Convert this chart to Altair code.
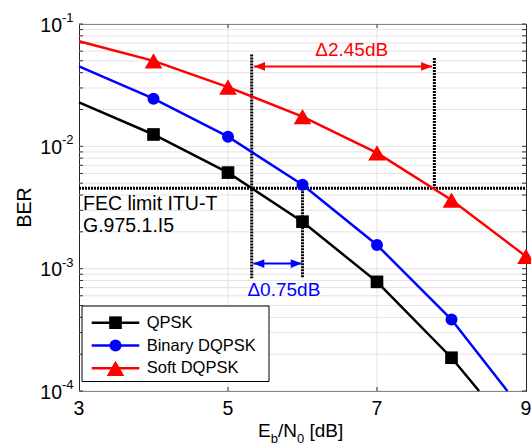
import altair as alt
import pandas as pd

FONT = "Liberation Sans"
W, H = 447, 367

# ---------------- data ----------------
series_names = ["QPSK", "Binary DQPSK", "Soft DQPSK"]
series_colors = ["#000000", "#0000ff", "#ff0000"]
series_shapes = ["square", "circle", "triangle-up"]
series_sizes = [160, 144, 310]

x_qpsk = [3, 4, 5, 6, 7, 8, 8.37]
ber_qpsk = [2.29e-2, 1.25e-2, 6.1e-3, 2.42e-3, 7.8e-4, 1.87e-4, 1.0e-4]
mk_qpsk = [False, True, True, True, True, True, False]

x_bin = [3, 4, 5, 6, 7, 8, 8.75]
ber_bin = [4.5e-2, 2.45e-2, 1.2e-2, 4.85e-3, 1.56e-3, 3.84e-4, 1.0e-4]
mk_bin = [False, True, True, True, True, True, False]

x_soft = [3, 4, 5, 6, 7, 8, 9]
ber_soft = [7.23e-2, 5.0e-2, 3.05e-2, 1.75e-2, 8.85e-3, 3.64e-3, 1.26e-3]
mk_soft = [False, True, True, True, True, True, True]

fec_level = 4.54e-3
fec_text = ["FEC limit ITU-T", "G.975.1.I5"]
fec_text_y = [3.40e-3, 2.23e-3]

# vertical dotted guides
v_x = [5.318, 6.0, 7.77]
v_y1 = [5.62e-2, fec_level, 5.28e-2]
v_y2 = [8.35e-4, 8.35e-4, fec_level]

# double arrows
arr_x1 = [5.349, 5.34]
arr_x2 = [7.74, 5.99]
arr_y = [4.5e-2, 1.1e-3]
arr_color = ["#ff0000", "#0000ff"]
arr_label = ["\u03942.45dB", "\u03940.75dB"]
arr_label_x = [6.66, 5.75]
arr_label_y = [6.18e-2, 6.67e-4]

x_ticks = [3, 5, 7, 9]
x_grid = [5, 7]
y_major = [1e-1, 1e-2, 1e-3, 1e-4]
y_major_exp = ["-1", "-2", "-3", "-4"]
y_minor = [m * 10.0 ** k for k in (-4, -3, -2) for m in range(1, 10)] + [1e-1]

# ---------------- helpers ----------------
xs = alt.Scale(domain=[3, 9], nice=False, zero=False)
ys = alt.Scale(type="log", domain=[1e-4, 1e-1], nice=False)


def X(f):
    return alt.X(f, type="quantitative", scale=xs, axis=None)


def Y(f):
    return alt.Y(f, type="quantitative", scale=ys, axis=None)


size_of = dict(zip(series_names, series_sizes))
rows = []
for name, xx, yy, mm in [
    ("QPSK", x_qpsk, ber_qpsk, mk_qpsk),
    ("Binary DQPSK", x_bin, ber_bin, mk_bin),
    ("Soft DQPSK", x_soft, ber_soft, mk_soft),
]:
    for a, b, c in zip(xx, yy, mm):
        rows.append({"series": name, "x": a, "ber": b, "marker": c, "sz": size_of[name]})
df = pd.DataFrame(rows)

color_scale = alt.Scale(domain=series_names, range=series_colors)
shape_scale = alt.Scale(domain=series_names, range=series_shapes)

grid_y_df = pd.DataFrame({"v": y_minor})
grid_x_df = pd.DataFrame({"v": x_grid})

grid_y = alt.Chart(grid_y_df).mark_rule(color="#e3e3e3", strokeWidth=1).encode(
    y=Y("v"), x=alt.value(0), x2=alt.value(W)
)
grid_x = alt.Chart(grid_x_df).mark_rule(color="#e3e3e3", strokeWidth=1).encode(
    x=X("v"), y=alt.value(0), y2=alt.value(H)
)
tick_yl = alt.Chart(grid_y_df).mark_rule(color="#333333", strokeWidth=1).encode(
    y=Y("v"), x=alt.value(0), x2=alt.value(4)
)
tick_yr = alt.Chart(grid_y_df).mark_rule(color="#333333", strokeWidth=1).encode(
    y=Y("v"), x=alt.value(W - 4), x2=alt.value(W)
)
tick_xb = alt.Chart(grid_x_df).mark_rule(color="#333333", strokeWidth=1).encode(
    x=X("v"), y=alt.value(H - 4), y2=alt.value(H)
)
tick_xt = alt.Chart(grid_x_df).mark_rule(color="#333333", strokeWidth=1).encode(
    x=X("v"), y=alt.value(0), y2=alt.value(4)
)

lines = alt.Chart(df).mark_line(strokeWidth=2.5).encode(
    x=X("x"), y=Y("ber"),
    color=alt.Color("series:N", scale=color_scale, legend=None),
)
points = alt.Chart(df).transform_filter(alt.datum.marker).mark_point(
    filled=True, opacity=1
).encode(
    x=X("x"), y=Y("ber"),
    color=alt.Color("series:N", scale=color_scale, legend=None),
    shape=alt.Shape("series:N", scale=shape_scale, legend=None),
    size=alt.Size("sz:Q", scale=None, legend=None),
)

fec_df = pd.DataFrame({"x1": [3], "x2": [9], "y": [fec_level]})
fec = alt.Chart(fec_df).mark_rule(color="black", strokeWidth=3, strokeDash=[2, 1]).encode(
    x=X("x1"), x2="x2", y=Y("y")
)
fec_lbl = alt.Chart(pd.DataFrame({"t": fec_text, "y": fec_text_y, "x": [3, 3]})).mark_text(
    align="left", baseline="middle", dx=4, fontSize=19.5, font=FONT, color="black"
).encode(x=X("x"), y=Y("y"), text="t:N")

v_df = pd.DataFrame({"x": v_x, "y1": v_y1, "y2": v_y2})
vlines = alt.Chart(v_df).mark_rule(color="black", strokeWidth=3, strokeDash=[2, 1]).encode(
    x=X("x"), y=Y("y1"), y2="y2"
)

arr_df = pd.DataFrame({"x1": arr_x1, "x2": arr_x2, "y": arr_y, "c": arr_color})
shafts = alt.Chart(arr_df).mark_rule(strokeWidth=2).encode(
    x=X("x1"), x2="x2", y=Y("y"), color=alt.Color("c:N", scale=None)
)
heads_rows = []
for a, b, y, c in zip(arr_x1, arr_x2, arr_y, arr_color):
    heads_rows.append({"x": a, "y": y, "c": c, "s": "M0,0 L2,-0.8 L2,0.8 Z"})
    heads_rows.append({"x": b, "y": y, "c": c, "s": "M0,0 L-2,-0.8 L-2,0.8 Z"})
heads = alt.Chart(pd.DataFrame(heads_rows)).mark_point(filled=True, opacity=1, size=121).encode(
    x=X("x"), y=Y("y"),
    color=alt.Color("c:N", scale=None),
    shape=alt.Shape("s:N", scale=None),
)
arr_txt = alt.Chart(pd.DataFrame({"t": arr_label, "x": arr_label_x, "y": arr_label_y, "c": arr_color})).mark_text(
    align="center", baseline="middle", fontSize=19, font=FONT
).encode(x=X("x"), y=Y("y"), text="t:N", color=alt.Color("c:N", scale=None))

# legend
leg_df = pd.DataFrame({
    "series": series_names,
    "i": list(range(len(series_names))),
    "sz": series_sizes,
})
leg_base = alt.Chart(leg_df).transform_calculate(ly="298.7 + datum.i * 22.8")
leg_box = alt.Chart(pd.DataFrame({"a": [0]})).mark_rect(
    fill="white", stroke="black", strokeWidth=1
).encode(x=alt.value(3), x2=alt.value(190), y=alt.value(282), y2=alt.value(357.5))
leg_lines = leg_base.mark_rule(strokeWidth=2.5).encode(
    x=alt.value(12.7), x2=alt.value(60.3), y=alt.Y("ly:Q", scale=None, axis=None),
    color=alt.Color("series:N", scale=color_scale, legend=None),
)
leg_pts = leg_base.mark_point(filled=True, opacity=1).encode(
    x=alt.value(36.5), y=alt.Y("ly:Q", scale=None, axis=None),
    color=alt.Color("series:N", scale=color_scale, legend=None),
    shape=alt.Shape("series:N", scale=shape_scale, legend=None),
    size=alt.Size("sz:Q", scale=None, legend=None),
)
leg_txt = leg_base.mark_text(align="left", baseline="middle", fontSize=16.5, font=FONT, color="black").encode(
    x=alt.value(67.7), y=alt.Y("ly:Q", scale=None, axis=None), text="series:N"
)

# axis labels
xl = alt.Chart(pd.DataFrame({"v": x_ticks, "t": [str(v) for v in x_ticks]})).mark_text(
    baseline="middle", align="center", fontSize=19.5, font=FONT, color="black"
).encode(x=X("v"), y=alt.value(H + 18), text="t:N")

yl_df = pd.DataFrame({"v": y_major, "e": y_major_exp, "b": ["10"] * 4})
yl_base = alt.Chart(yl_df).mark_text(
    align="right", baseline="middle", fontSize=19.5, font=FONT, color="black", dy=1.5
).encode(x=alt.value(-17), y=Y("v"), text="b:N")
yl_exp = alt.Chart(yl_df).mark_text(
    align="left", baseline="middle", fontSize=13, font=FONT, color="black", dy=-6
).encode(x=alt.value(-17), y=Y("v"), text="e:N")

ber_title = alt.Chart(pd.DataFrame({"t": ["BER"]})).mark_text(
    angle=270, align="center", baseline="middle", fontSize=19.5, font=FONT, color="black"
).encode(x=alt.value(-54.5), y=alt.value(H / 2), text="t:N")

title_parts = ["E", "b", "/N", "0", "[dB]"]
title_x = [179, 191.7, 198.9, 217.9, 230.4]
title_sub = [False, True, False, True, False]
tparts = []
for t, px, sub in zip(title_parts, title_x, title_sub):
    tparts.append(
        alt.Chart(pd.DataFrame({"t": [t]})).mark_text(
            align="left", baseline="alphabetic", fontSize=13 if sub else 19,
            font=FONT, color="black", dy=6 if sub else 0,
        ).encode(x=alt.value(px), y=alt.value(412.5), text="t:N")
    )

chart = alt.layer(
    grid_y, grid_x, tick_yl, tick_yr, tick_xb, tick_xt,
    fec, vlines, lines, points, fec_lbl,
    shafts, heads, arr_txt,
    leg_box, leg_lines, leg_pts, leg_txt,
    xl, yl_base, yl_exp, ber_title, *tparts,
).properties(
    width=W, height=H,
    autosize=alt.AutoSizeParams(type="none"),
    padding={"left": 79, "top": 24, "right": 5, "bottom": 55},
    background="white",
).configure_view(stroke="#262626", strokeWidth=1)

chart.save("out.html", embed_options={"renderer": "svg", "actions": False})
